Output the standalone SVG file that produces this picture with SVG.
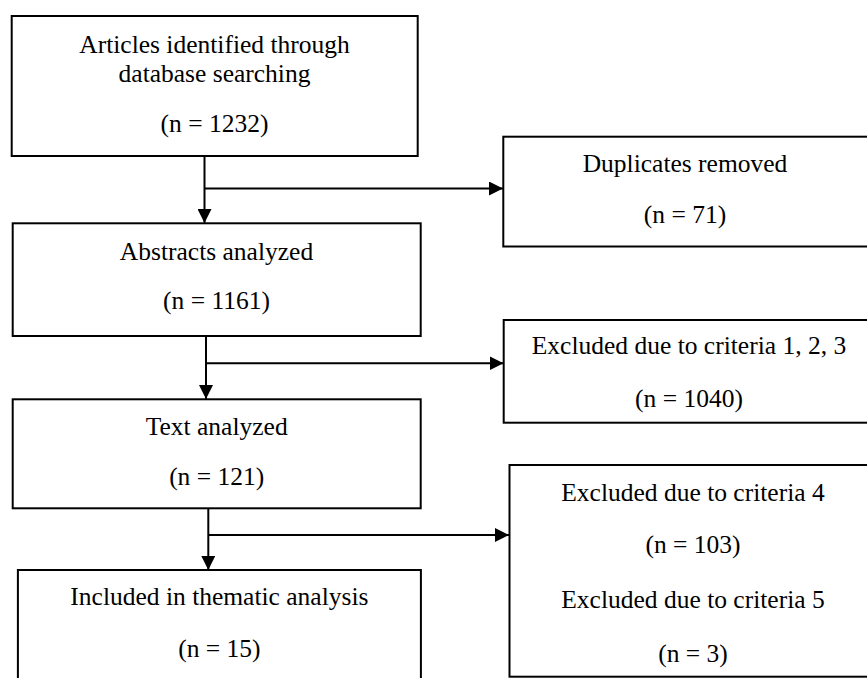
<svg xmlns="http://www.w3.org/2000/svg" width="867" height="678" viewBox="0 0 867 678">
<style>
.box{fill:#fff;stroke:#000;stroke-width:2}
.t{font-family:"Liberation Serif","Times New Roman",serif;font-size:25.5px;fill:#000;text-anchor:middle}
.c{fill:none;stroke:#000;stroke-width:2}
</style>
<defs>
<marker id="ah" markerUnits="userSpaceOnUse" markerWidth="14" markerHeight="14" refX="14" refY="7" orient="auto">
<path d="M0,0 L14,7 L0,14 z" fill="#000"/>
</marker>
</defs>
<rect width="867" height="678" fill="#fff"/>
<g id="n1">
<rect class="box" x="11.7" y="16" width="406" height="140"/>
<text class="t" x="214.5" y="52.7">Articles identified through</text>
<text class="t" x="214.5" y="81.7">database searching</text>
<text class="t" x="214.5" y="131.7">(n = 1232)</text>
</g>
<g id="n2">
<rect class="box" x="503.3" y="136.7" width="370" height="109.8"/>
<text class="t" x="685" y="172">Duplicates removed</text>
<text class="t" x="685" y="223">(n = 71)</text>
</g>
<g id="n3">
<rect class="box" x="12.7" y="223.3" width="408" height="112.7"/>
<text class="t" x="216.5" y="259.5">Abstracts analyzed</text>
<text class="t" x="216.5" y="309">(n = 1161)</text>
</g>
<g id="n4">
<rect class="box" x="503.7" y="320" width="370" height="102.7"/>
<text class="t" x="689" y="354.3">Excluded due to criteria 1, 2, 3</text>
<text class="t" x="689" y="406.7">(n = 1040)</text>
</g>
<g id="n5">
<rect class="box" x="12.7" y="399.3" width="408" height="109"/>
<text class="t" x="216.7" y="435">Text analyzed</text>
<text class="t" x="216.7" y="485">(n = 121)</text>
</g>
<g id="n6">
<rect class="box" x="509.5" y="465" width="370" height="211.7"/>
<text class="t" x="693" y="500.7">Excluded due to criteria 4</text>
<text class="t" x="693" y="552.7">(n = 103)</text>
<text class="t" x="693" y="608.3">Excluded due to criteria 5</text>
<text class="t" x="693" y="661.7">(n = 3)</text>
</g>
<g id="n7">
<rect class="box" x="17.9" y="570" width="403" height="112"/>
<text class="t" x="219.4" y="605">Included in thematic analysis</text>
<text class="t" x="219.4" y="656.7">(n = 15)</text>
</g>
<g id="connectors">
<path class="c" d="M204.5,156 V223" marker-end="url(#ah)"/>
<path class="c" d="M204.5,188.5 H503" marker-end="url(#ah)"/>
<path class="c" d="M206,336 V399" marker-end="url(#ah)"/>
<path class="c" d="M206,363.3 H503.5" marker-end="url(#ah)"/>
<path class="c" d="M208.3,508.3 V570" marker-end="url(#ah)"/>
<path class="c" d="M208.3,535 H509" marker-end="url(#ah)"/>
</g>
</svg>
